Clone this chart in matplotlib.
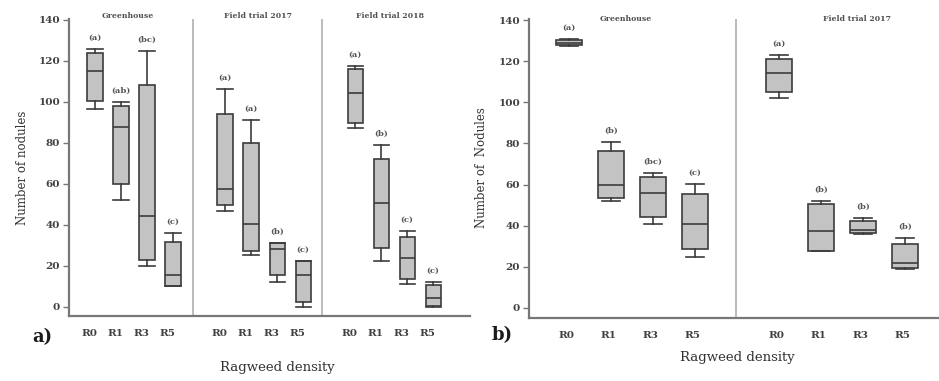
import matplotlib
matplotlib.use("Agg")
import matplotlib.pyplot as plt
import numpy as np

# ---------------- data ----------------
groups = ["R0", "R1", "R3", "R5"]

# Panel a) : three trials
a_trials = ["Greenhouse", "Field trial 2017", "Field trial 2018"]
# each row: [whislo, q1, med, q3, whishi] for R0, R1, R3, R5
a_green = [[96.3, 100.5, 115.0, 123.6, 125.7],
           [52.0, 59.9, 87.5, 97.9, 100.0],
           [20.0, 22.8, 44.2, 108.1, 124.9],
           [10.2, 10.2, 15.5, 31.7, 36.1]]
a_f2017 = [[46.8, 49.6, 57.6, 94.1, 106.0],
           [25.0, 27.3, 40.2, 80.0, 91.0],
           [12.2, 15.6, 28.0, 31.0, 31.2],
           [0.0, 2.4, 15.3, 22.3, 22.3]]
a_f2018 = [[87.0, 89.5, 104.1, 115.8, 117.4],
           [22.3, 28.8, 50.7, 72.2, 78.9],
           [11.1, 13.7, 23.6, 34.1, 37.1],
           [0.0, 0.3, 4.1, 10.6, 12.2]]
a_letters = [["(a)", "(ab)", "(bc)", "(c)"],
             ["(a)", "(a)", "(b)", "(c)"],
             ["(a)", "(b)", "(c)", "(c)"]]

# Panel b) : two trials
b_trials = ["Greenhouse", "Field trial 2017"]
b_green = [[127.4, 127.9, 128.8, 130.3, 130.8],
           [52.0, 53.3, 60.0, 76.3, 80.9],
           [40.8, 44.4, 56.0, 63.5, 65.8],
           [24.9, 28.7, 40.8, 55.4, 60.1]]
b_f2017 = [[101.9, 104.9, 114.4, 121.0, 123.0],
           [27.9, 27.9, 37.4, 50.6, 52.0],
           [35.8, 36.3, 37.9, 42.4, 43.9],
           [18.9, 19.3, 21.7, 31.1, 33.9]]
b_letters = [["(a)", "(b)", "(bc)", "(c)"],
             ["(a)", "(b)", "(b)", "(b)"]]

yticks = [0, 20, 40, 60, 80, 100, 120, 140]

# ---------------- style ----------------
FONT = "DejaVu Serif"
plt.rcParams["font.family"] = FONT
BOX_FC = "#c3c3c3"
EDGE = "#3c3c3c"
AXC = "#777777"
DIVC = "#a8a8a8"
TXT = "#404040"

fig = plt.figure(figsize=(9.39, 3.81), dpi=100)
W, H = 939, 381


def px_axes(x0, x1, ytop, ybot):
    return fig.add_axes([x0 / W, 1 - ybot / H, (x1 - x0) / W, (ybot - ytop) / H])


def stats_from(rows):
    out = []
    for r in rows:
        out.append(dict(whislo=r[0], q1=r[1], med=r[2], q3=r[3], whishi=r[4], fliers=[]))
    return out


def draw_panel(ax, trial_data, letters, titles, title_x, title_y, width, capw,
               xlim, ylim, dividers, tick_shift):
    ax.set_xlim(*xlim)
    ax.set_ylim(*ylim)
    ticks, labels = [], []
    for k, rows in enumerate(trial_data):
        pos = [j + 5 * k for j in range(len(groups))]
        st = stats_from(rows)
        ax.bxp(st, positions=pos, widths=width, patch_artist=True, showfliers=False,
               capwidths=capw,
               boxprops=dict(facecolor=BOX_FC, edgecolor=EDGE, linewidth=1.2),
               medianprops=dict(color=EDGE, linewidth=1.2),
               whiskerprops=dict(color=EDGE, linewidth=1.2),
               capprops=dict(color=EDGE, linewidth=1.2))
        for j, p in enumerate(pos):
            ax.annotate(letters[k][j], xy=(p, rows[j][4]), xytext=(0, 8),
                        textcoords="offset points", ha="center", va="center",
                        fontsize=6, fontweight="bold", color="#555555")
            ticks.append(p + tick_shift)
            labels.append(groups[j])
        ax.text(title_x[k], title_y, titles[k], ha="center", va="center",
                fontsize=5.6, fontweight="bold", color="#505050", clip_on=False)
    for d in dividers:
        ax.axvline(d, color=DIVC, linewidth=1.1, zorder=0)
    ax.set_xticks(ticks)
    ax.set_xticklabels(labels)
    ax.set_yticks(yticks)
    for s in ["top", "right"]:
        ax.spines[s].set_visible(False)
    for s in ["left", "bottom"]:
        ax.spines[s].set_color(AXC)
        ax.spines[s].set_linewidth(1.6)
    ax.tick_params(axis="x", length=0, pad=9, labelsize=7.5, labelcolor=TXT)
    ax.tick_params(axis="y", length=4, width=1, color=AXC, pad=2.5,
                   labelsize=7.5, labelcolor=TXT)
    for t in ax.get_xticklabels() + ax.get_yticklabels():
        t.set_fontweight("bold")
    ax.set_facecolor("none")


# ---- panel a ----
axa = px_axes(69, 470, 19, 316)
draw_panel(axa, [a_green, a_f2017, a_f2018], a_letters, a_trials,
           title_x=[1.27, 6.27, 11.35], title_y=141.8, width=0.58, capw=0.58,
           xlim=(-1.0, 14.42), ylim=(-4.5, 140.3), dividers=[3.77, 8.73],
           tick_shift=-0.22)

# ---- panel b ----
axb = px_axes(529, 939, 19, 318)
draw_panel(axb, [b_green, b_f2017], b_letters, b_trials,
           title_x=[1.36, 6.86], title_y=140.6, width=0.62, capw=0.42,
           xlim=(-0.95, 8.81), ylim=(-4.9, 140.5), dividers=[3.98],
           tick_shift=-0.05)

# ---- figure texts ----
fig.text(23 / W, 1 - 168 / H, "Number of nodules", rotation=90, ha="center", va="center",
         fontsize=8.5, color="#333333")
fig.text(482 / W, 1 - 168 / H, "Number of  Nodules", rotation=90, ha="center", va="center",
         fontsize=8.5, color="#333333")
fig.text(277 / W, 1 - 368 / H, "Ragweed density", ha="center", va="center",
         fontsize=9.5, color="#333333")
fig.text(737 / W, 1 - 358 / H, "Ragweed density", ha="center", va="center",
         fontsize=9.5, color="#333333")
fig.text(42 / W, 1 - 337 / H, "a)", ha="center", va="center",
         fontsize=13, fontweight="bold", color="#1a1a1a")
fig.text(502 / W, 1 - 335 / H, "b)", ha="center", va="center",
         fontsize=13, fontweight="bold", color="#1a1a1a")

fig.savefig("out.png", dpi=100)
